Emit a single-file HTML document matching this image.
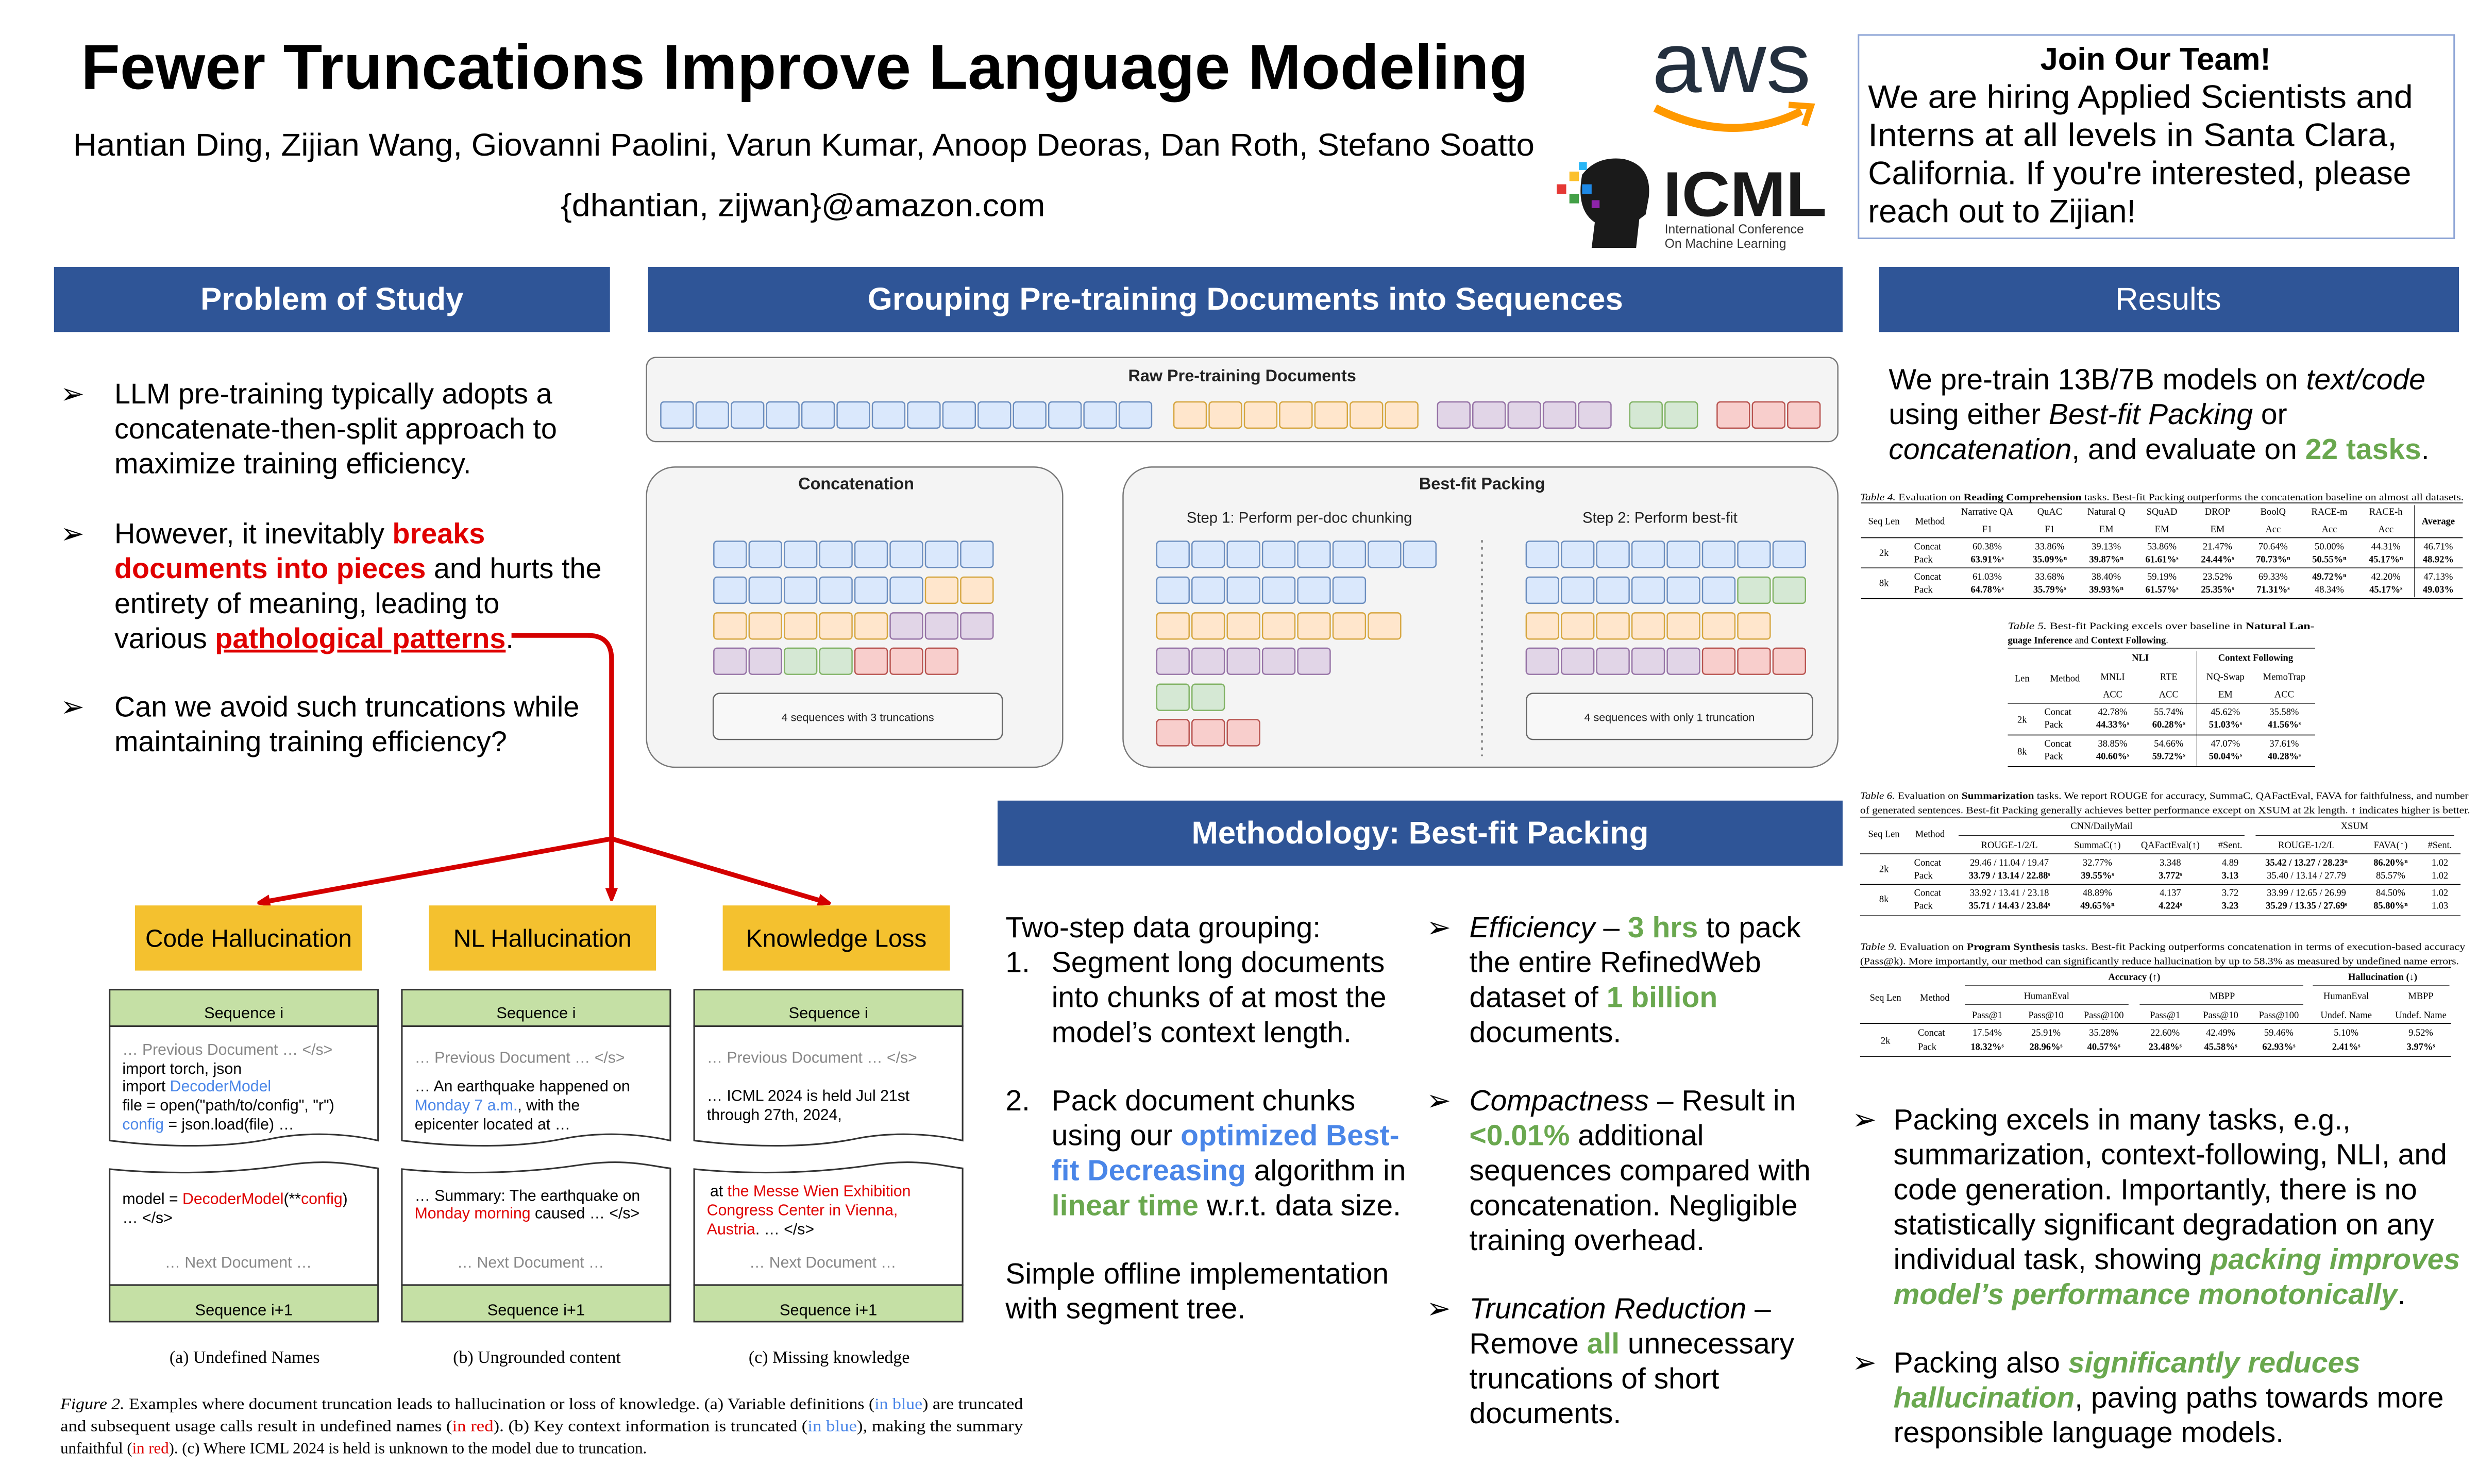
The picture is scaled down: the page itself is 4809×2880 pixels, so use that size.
<!DOCTYPE html>
<html><head><meta charset="utf-8"><style>html,body{margin:0;padding:0;background:#fff}svg{display:block}</style></head><body>
<svg width="4809" height="2880" viewBox="0 0 1560 934.2" xmlns="http://www.w3.org/2000/svg" font-family="Liberation Sans, DejaVu Sans, sans-serif">
<defs>
<marker id="ah" markerWidth="8" markerHeight="8" refX="5" refY="4" orient="auto" markerUnits="userSpaceOnUse"><path d="M0,0 L10,4 L0,8 z" fill="#d40000"/></marker>
</defs>
<rect width="1560" height="934.2" fill="#fff"/>
<text x="51" y="56" font-size="40" font-weight="bold" textLength="911" lengthAdjust="spacingAndGlyphs">Fewer Truncations Improve Language Modeling</text>
<text x="46" y="98" font-size="20" textLength="920" lengthAdjust="spacingAndGlyphs">Hantian Ding, Zijian Wang, Giovanni Paolini, Varun Kumar, Anoop Deoras, Dan Roth, Stefano Soatto</text>
<text x="353" y="136" font-size="20" textLength="305" lengthAdjust="spacingAndGlyphs">{dhantian, zijwan}@amazon.com</text>
<text x="1040" y="58" font-size="54" fill="#232f3e" textLength="100" lengthAdjust="spacingAndGlyphs">aws</text>
<path d="M1042,68 Q1090,92 1134,70" stroke="#ff9900" stroke-width="5" fill="none"/>
<path d="M1126,66 L1140,67 L1136,79" stroke="#ff9900" stroke-width="4" fill="none"/>
<path d="M996,110 Q1005,98 1022,100 Q1040,104 1038,124 L1036,135 L1032,138 L1030,156 L1002,156 L1004,140 Q992,132 996,110 Z" fill="#1a1a1a"/>
<rect x="980" y="116" width="6" height="6" fill="#e53935"/><rect x="988" y="108" width="6" height="6" fill="#fbc02d"/><rect x="988" y="122" width="6" height="6" fill="#43a047"/><rect x="996" y="116" width="6" height="6" fill="#1e88e5"/><rect x="1002" y="126" width="5" height="5" fill="#8e24aa"/><rect x="994" y="102" width="5" height="5" fill="#29b6f6"/>
<text x="1047" y="136" font-size="40" font-weight="bold" fill="#1a1a1a" textLength="103" lengthAdjust="spacingAndGlyphs">ICML</text>
<text x="1048" y="147" font-size="8" fill="#333">International Conference</text>
<text x="1048" y="156" font-size="8" fill="#333">On Machine Learning</text>
<rect x="1170" y="22" width="375" height="128" fill="#fff" stroke="#8fa6d6" stroke-width="1"/>
<text x="1357" y="44" font-size="20" font-weight="bold" text-anchor="middle">Join Our Team!</text>
<g font-size="20.5">
<text x="1176" y="68" textLength="343" lengthAdjust="spacingAndGlyphs">We are hiring Applied Scientists and</text>
<text x="1176" y="92" textLength="333" lengthAdjust="spacingAndGlyphs">Interns at all levels in Santa Clara,</text>
<text x="1176" y="116" textLength="342" lengthAdjust="spacingAndGlyphs">California. If you're interested, please</text>
<text x="1176" y="140">reach out to Zijian!</text>
</g>
<rect x="34" y="168" width="350" height="41" fill="#2f5597"/>
<text x="209" y="195" font-size="20" font-weight="bold" fill="#fff" text-anchor="middle">Problem of Study</text>
<rect x="408" y="168" width="752" height="41" fill="#2f5597"/>
<text x="784" y="195" font-size="20" font-weight="bold" fill="#fff" text-anchor="middle">Grouping Pre-training Documents into Sequences</text>
<rect x="1183" y="168" width="365" height="41" fill="#2f5597"/>
<text x="1365" y="195" font-size="20" fill="#fff" text-anchor="middle">Results</text>
<rect x="628" y="504" width="532" height="41" fill="#2f5597"/>
<text x="894" y="531" font-size="20" font-weight="bold" fill="#fff" text-anchor="middle">Methodology: Best-fit Packing</text>
<g font-size="18.1">
<text x="38" y="254">➢</text>
<text x="72" y="254">LLM pre-training typically adopts a</text>
<text x="72" y="276">concatenate-then-split approach to</text>
<text x="72" y="298">maximize training efficiency.</text>
<text x="38" y="342">➢</text>
<text x="72" y="342">However, it inevitably <tspan fill="#e00000" font-weight="bold">breaks</tspan></text>
<text x="72" y="364"><tspan fill="#e00000" font-weight="bold">documents into pieces</tspan> and hurts the</text>
<text x="72" y="386">entirety of meaning, leading to</text>
<text x="72" y="408">various <tspan fill="#e00000" font-weight="bold" text-decoration="underline">pathological patterns</tspan>.</text>
<text x="38" y="451">➢</text>
<text x="72" y="451">Can we avoid such truncations while</text>
<text x="72" y="473">maintaining training efficiency?</text>
</g>
<g stroke="#d40000" stroke-width="3" fill="none">
<path d="M322,400 H370 Q385,400 385,415 V528"/>
<path d="M385,528 L165,568" marker-end="url(#ah)"/>
<path d="M385,528 V564" marker-end="url(#ah)"/>
<path d="M385,528 L520,568" marker-end="url(#ah)"/>
</g>
<g font-size="15.5" text-anchor="middle">
<rect x="85" y="570" width="143" height="41" fill="#f4c12f"/><text x="156.5" y="596">Code Hallucination</text>
<rect x="270" y="570" width="143" height="41" fill="#f4c12f"/><text x="341.5" y="596">NL Hallucination</text>
<rect x="455" y="570" width="143" height="41" fill="#f4c12f"/><text x="526.5" y="596">Knowledge Loss</text>
</g>
<g stroke="#333" stroke-width="1">
<rect x="69" y="623" width="169" height="23" fill="#c5e0a5"/>
<path d="M69,646 V718 C110,723 145,722 170,717 S220,714 238,718 V646 Z" fill="#fff"/>
<path d="M69,736 C110,740 150,738 180,733.5 S225,734 238,735.5 V809 H69 Z" fill="#fff"/>
<rect x="69" y="809" width="169" height="23" fill="#c5e0a5"/>
<rect x="253" y="623" width="169" height="23" fill="#c5e0a5"/>
<path d="M253,646 V718 C294,723 329,722 354,717 S404,714 422,718 V646 Z" fill="#fff"/>
<path d="M253,736 C294,740 334,738 364,733.5 S409,734 422,735.5 V809 H253 Z" fill="#fff"/>
<rect x="253" y="809" width="169" height="23" fill="#c5e0a5"/>
<rect x="437" y="623" width="169" height="23" fill="#c5e0a5"/>
<path d="M437,646 V718 C478,723 513,722 538,717 S588,714 606,718 V646 Z" fill="#fff"/>
<path d="M437,736 C478,740 518,738 548,733.5 S593,734 606,735.5 V809 H437 Z" fill="#fff"/>
<rect x="437" y="809" width="169" height="23" fill="#c5e0a5"/>
</g>
<g font-size="10" text-anchor="middle">
<text x="153.5" y="641">Sequence i</text><text x="337.5" y="641">Sequence i</text><text x="521.5" y="641">Sequence i</text>
<text x="153.5" y="828">Sequence i+1</text><text x="337.5" y="828">Sequence i+1</text><text x="521.5" y="828">Sequence i+1</text>
</g>
<g font-size="9.8">
<text x="77" y="664" fill="#888">… Previous Document … &lt;/s&gt;</text>
<text x="77" y="676">import torch, json</text>
<text x="77" y="687">import <tspan fill="#4a86e8">DecoderModel</tspan></text>
<text x="77" y="699">file = open("path/to/config", "r")</text>
<text x="77" y="711"><tspan fill="#4a86e8">config</tspan> = json.load(file) …</text>
<text x="77" y="758">model = <tspan fill="#e00000">DecoderModel</tspan>(**<tspan fill="#e00000">config</tspan>)</text>
<text x="77" y="770">… &lt;/s&gt;</text>
<text x="150" y="798" fill="#888" text-anchor="middle">… Next Document …</text>
<text x="261" y="669" fill="#888">… Previous Document … &lt;/s&gt;</text>
<text x="261" y="687">… An earthquake happened on</text>
<text x="261" y="699"><tspan fill="#4a86e8">Monday 7 a.m.</tspan>, with the</text>
<text x="261" y="711">epicenter located at …</text>
<text x="261" y="756">… Summary: The earthquake on</text>
<text x="261" y="767"><tspan fill="#e00000">Monday morning</tspan> caused … &lt;/s&gt;</text>
<text x="334" y="798" fill="#888" text-anchor="middle">… Next Document …</text>
<text x="445" y="669" fill="#888">… Previous Document … &lt;/s&gt;</text>
<text x="445" y="693">… ICML 2024 is held Jul 21st</text>
<text x="445" y="705">through 27th, 2024,</text>
<text x="447" y="753">at <tspan fill="#e00000">the Messe Wien Exhibition</tspan></text>
<text x="445" y="765" fill="#e00000">Congress Center in Vienna,</text>
<text x="445" y="777"><tspan fill="#e00000">Austria</tspan>. … &lt;/s&gt;</text>
<text x="518" y="798" fill="#888" text-anchor="middle">… Next Document …</text>
</g>
<g font-family="Liberation Serif, serif" font-size="11" text-anchor="middle">
<text x="154" y="858">(a) Undefined Names</text>
<text x="338" y="858">(b) Ungrounded content</text>
<text x="522" y="858">(c) Missing knowledge</text>
</g>
<g font-family="Liberation Serif, serif" font-size="10">
<text x="38" y="887" textLength="606" lengthAdjust="spacingAndGlyphs"><tspan font-style="italic">Figure 2.</tspan> Examples where document truncation leads to hallucination or loss of knowledge. (a) Variable definitions (<tspan fill="#4a86e8">in blue</tspan>) are truncated</text>
<text x="38" y="901" textLength="606" lengthAdjust="spacingAndGlyphs">and subsequent usage calls result in undefined names (<tspan fill="#e00000">in red</tspan>). (b) Key context information is truncated (<tspan fill="#4a86e8">in blue</tspan>), making the summary</text>
<text x="38" y="915">unfaithful (<tspan fill="#e00000">in red</tspan>). (c) Where ICML 2024 is held is unknown to the model due to truncation.</text>
</g>
<g stroke="#777" stroke-width="0.8" fill="#f4f4f4">
<rect x="407" y="225" width="750" height="53" rx="6"/>
<rect x="407" y="294" width="262" height="189" rx="18"/>
<rect x="707" y="294" width="450" height="189" rx="18"/>
</g>
<g font-size="10.5" font-weight="bold" text-anchor="middle" fill="#222">
<text x="782" y="240">Raw Pre-training Documents</text>
<text x="539" y="308">Concatenation</text>
<text x="933" y="308">Best-fit Packing</text>
</g>
<g font-size="9.5" text-anchor="middle" fill="#222">
<text x="818" y="329">Step 1: Perform per-doc chunking</text>
<text x="1045" y="329">Step 2: Perform best-fit</text>
</g>
<line x1="933" y1="340" x2="933" y2="476" stroke="#555" stroke-width="0.8" stroke-dasharray="1.5,3"/>
<g stroke-width="0.8">
<rect x="449" y="436.5" width="182" height="29" rx="4" fill="#f8f8f8" stroke="#666"/>
<rect x="961" y="436.5" width="180" height="29" rx="4" fill="#f8f8f8" stroke="#666"/>
</g>
<g font-size="7" text-anchor="middle" fill="#222">
<text x="540" y="454">4 sequences with 3 truncations</text>
<text x="1051" y="454">4 sequences with only 1 truncation</text>
</g>
<g stroke-width="0.8">
<g fill="#dae8fc" stroke="#6c8ebf">
<rect x="416" y="253" width="20.4" height="16.5" rx="2"/><rect x="438.2" y="253" width="20.4" height="16.5" rx="2"/><rect x="460.4" y="253" width="20.4" height="16.5" rx="2"/><rect x="482.6" y="253" width="20.4" height="16.5" rx="2"/><rect x="504.8" y="253" width="20.4" height="16.5" rx="2"/><rect x="527" y="253" width="20.4" height="16.5" rx="2"/><rect x="549.2" y="253" width="20.4" height="16.5" rx="2"/><rect x="571.4" y="253" width="20.4" height="16.5" rx="2"/><rect x="593.6" y="253" width="20.4" height="16.5" rx="2"/><rect x="615.8" y="253" width="20.4" height="16.5" rx="2"/><rect x="638" y="253" width="20.4" height="16.5" rx="2"/><rect x="660.2" y="253" width="20.4" height="16.5" rx="2"/><rect x="682.4" y="253" width="20.4" height="16.5" rx="2"/><rect x="704.6" y="253" width="20.4" height="16.5" rx="2"/>
<rect x="449.4" y="340.7" width="20.4" height="16.5" rx="2"/><rect x="471.6" y="340.7" width="20.4" height="16.5" rx="2"/><rect x="493.8" y="340.7" width="20.4" height="16.5" rx="2"/><rect x="516" y="340.7" width="20.4" height="16.5" rx="2"/><rect x="538.2" y="340.7" width="20.4" height="16.5" rx="2"/><rect x="560.4" y="340.7" width="20.4" height="16.5" rx="2"/><rect x="582.6" y="340.7" width="20.4" height="16.5" rx="2"/><rect x="604.8" y="340.7" width="20.4" height="16.5" rx="2"/>
<rect x="449.4" y="363.3" width="20.4" height="16.5" rx="2"/><rect x="471.6" y="363.3" width="20.4" height="16.5" rx="2"/><rect x="493.8" y="363.3" width="20.4" height="16.5" rx="2"/><rect x="516" y="363.3" width="20.4" height="16.5" rx="2"/><rect x="538.2" y="363.3" width="20.4" height="16.5" rx="2"/><rect x="560.4" y="363.3" width="20.4" height="16.5" rx="2"/>
<rect x="728.2" y="340.7" width="20.4" height="16.5" rx="2"/><rect x="750.4" y="340.7" width="20.4" height="16.5" rx="2"/><rect x="772.6" y="340.7" width="20.4" height="16.5" rx="2"/><rect x="794.8" y="340.7" width="20.4" height="16.5" rx="2"/><rect x="817" y="340.7" width="20.4" height="16.5" rx="2"/><rect x="839.2" y="340.7" width="20.4" height="16.5" rx="2"/><rect x="861.4" y="340.7" width="20.4" height="16.5" rx="2"/><rect x="883.6" y="340.7" width="20.4" height="16.5" rx="2"/>
<rect x="728.2" y="363.3" width="20.4" height="16.5" rx="2"/><rect x="750.4" y="363.3" width="20.4" height="16.5" rx="2"/><rect x="772.6" y="363.3" width="20.4" height="16.5" rx="2"/><rect x="794.8" y="363.3" width="20.4" height="16.5" rx="2"/><rect x="817" y="363.3" width="20.4" height="16.5" rx="2"/><rect x="839.2" y="363.3" width="20.4" height="16.5" rx="2"/>
<rect x="960.8" y="340.7" width="20.4" height="16.5" rx="2"/><rect x="983" y="340.7" width="20.4" height="16.5" rx="2"/><rect x="1005.2" y="340.7" width="20.4" height="16.5" rx="2"/><rect x="1027.4" y="340.7" width="20.4" height="16.5" rx="2"/><rect x="1049.6" y="340.7" width="20.4" height="16.5" rx="2"/><rect x="1071.8" y="340.7" width="20.4" height="16.5" rx="2"/><rect x="1094" y="340.7" width="20.4" height="16.5" rx="2"/><rect x="1116.2" y="340.7" width="20.4" height="16.5" rx="2"/>
<rect x="960.8" y="363.3" width="20.4" height="16.5" rx="2"/><rect x="983" y="363.3" width="20.4" height="16.5" rx="2"/><rect x="1005.2" y="363.3" width="20.4" height="16.5" rx="2"/><rect x="1027.4" y="363.3" width="20.4" height="16.5" rx="2"/><rect x="1049.6" y="363.3" width="20.4" height="16.5" rx="2"/><rect x="1071.8" y="363.3" width="20.4" height="16.5" rx="2"/>
</g>
<g fill="#ffe6cc" stroke="#d6a640">
<rect x="739" y="253" width="20.4" height="16.5" rx="2"/><rect x="761.2" y="253" width="20.4" height="16.5" rx="2"/><rect x="783.4" y="253" width="20.4" height="16.5" rx="2"/><rect x="805.6" y="253" width="20.4" height="16.5" rx="2"/><rect x="827.8" y="253" width="20.4" height="16.5" rx="2"/><rect x="850" y="253" width="20.4" height="16.5" rx="2"/><rect x="872.2" y="253" width="20.4" height="16.5" rx="2"/>
<rect x="582.6" y="363.3" width="20.4" height="16.5" rx="2"/><rect x="604.8" y="363.3" width="20.4" height="16.5" rx="2"/>
<rect x="449.4" y="385.8" width="20.4" height="16.5" rx="2"/><rect x="471.6" y="385.8" width="20.4" height="16.5" rx="2"/><rect x="493.8" y="385.8" width="20.4" height="16.5" rx="2"/><rect x="516" y="385.8" width="20.4" height="16.5" rx="2"/><rect x="538.2" y="385.8" width="20.4" height="16.5" rx="2"/>
<rect x="728.2" y="385.8" width="20.4" height="16.5" rx="2"/><rect x="750.4" y="385.8" width="20.4" height="16.5" rx="2"/><rect x="772.6" y="385.8" width="20.4" height="16.5" rx="2"/><rect x="794.8" y="385.8" width="20.4" height="16.5" rx="2"/><rect x="817" y="385.8" width="20.4" height="16.5" rx="2"/><rect x="839.2" y="385.8" width="20.4" height="16.5" rx="2"/><rect x="861.4" y="385.8" width="20.4" height="16.5" rx="2"/>
<rect x="960.8" y="385.8" width="20.4" height="16.5" rx="2"/><rect x="983" y="385.8" width="20.4" height="16.5" rx="2"/><rect x="1005.2" y="385.8" width="20.4" height="16.5" rx="2"/><rect x="1027.4" y="385.8" width="20.4" height="16.5" rx="2"/><rect x="1049.6" y="385.8" width="20.4" height="16.5" rx="2"/><rect x="1071.8" y="385.8" width="20.4" height="16.5" rx="2"/><rect x="1094" y="385.8" width="20.4" height="16.5" rx="2"/>
</g>
<g fill="#e1d5e7" stroke="#9673a6">
<rect x="905" y="253" width="20.4" height="16.5" rx="2"/><rect x="927.2" y="253" width="20.4" height="16.5" rx="2"/><rect x="949.4" y="253" width="20.4" height="16.5" rx="2"/><rect x="971.6" y="253" width="20.4" height="16.5" rx="2"/><rect x="993.8" y="253" width="20.4" height="16.5" rx="2"/>
<rect x="560.4" y="385.8" width="20.4" height="16.5" rx="2"/><rect x="582.6" y="385.8" width="20.4" height="16.5" rx="2"/><rect x="604.8" y="385.8" width="20.4" height="16.5" rx="2"/>
<rect x="449.4" y="408" width="20.4" height="16.5" rx="2"/><rect x="471.6" y="408" width="20.4" height="16.5" rx="2"/>
<rect x="728.2" y="408" width="20.4" height="16.5" rx="2"/><rect x="750.4" y="408" width="20.4" height="16.5" rx="2"/><rect x="772.6" y="408" width="20.4" height="16.5" rx="2"/><rect x="794.8" y="408" width="20.4" height="16.5" rx="2"/><rect x="817" y="408" width="20.4" height="16.5" rx="2"/>
<rect x="960.8" y="408" width="20.4" height="16.5" rx="2"/><rect x="983" y="408" width="20.4" height="16.5" rx="2"/><rect x="1005.2" y="408" width="20.4" height="16.5" rx="2"/><rect x="1027.4" y="408" width="20.4" height="16.5" rx="2"/><rect x="1049.6" y="408" width="20.4" height="16.5" rx="2"/>
</g>
<g fill="#d5e8d4" stroke="#82b366">
<rect x="1026" y="253" width="20.4" height="16.5" rx="2"/><rect x="1048.2" y="253" width="20.4" height="16.5" rx="2"/>
<rect x="493.8" y="408" width="20.4" height="16.5" rx="2"/><rect x="516" y="408" width="20.4" height="16.5" rx="2"/>
<rect x="728.2" y="430.7" width="20.4" height="16.5" rx="2"/><rect x="750.4" y="430.7" width="20.4" height="16.5" rx="2"/>
<rect x="1094" y="363.3" width="20.4" height="16.5" rx="2"/><rect x="1116.2" y="363.3" width="20.4" height="16.5" rx="2"/>
</g>
<g fill="#f8cecc" stroke="#b85450">
<rect x="1081" y="253" width="20.4" height="16.5" rx="2"/><rect x="1103.2" y="253" width="20.4" height="16.5" rx="2"/><rect x="1125.4" y="253" width="20.4" height="16.5" rx="2"/>
<rect x="538.2" y="408" width="20.4" height="16.5" rx="2"/><rect x="560.4" y="408" width="20.4" height="16.5" rx="2"/><rect x="582.6" y="408" width="20.4" height="16.5" rx="2"/>
<rect x="728.2" y="453" width="20.4" height="16.5" rx="2"/><rect x="750.4" y="453" width="20.4" height="16.5" rx="2"/><rect x="772.6" y="453" width="20.4" height="16.5" rx="2"/>
<rect x="1071.8" y="408" width="20.4" height="16.5" rx="2"/><rect x="1094" y="408" width="20.4" height="16.5" rx="2"/><rect x="1116.2" y="408" width="20.4" height="16.5" rx="2"/>
</g>
</g>
<g font-size="18.5">
<text x="633" y="590">Two-step data grouping:</text>
<text x="633" y="612">1.</text><text x="662" y="612">Segment long documents</text>
<text x="662" y="634">into chunks of at most the</text>
<text x="662" y="656">model’s context length.</text>
<text x="633" y="699">2.</text><text x="662" y="699">Pack document chunks</text>
<text x="662" y="721">using our <tspan fill="#4a86e8" font-weight="bold">optimized Best-</tspan></text>
<text x="662" y="743"><tspan fill="#4a86e8" font-weight="bold">fit Decreasing</tspan> algorithm in</text>
<text x="662" y="765"><tspan fill="#6aa84f" font-weight="bold">linear time</tspan> w.r.t. data size.</text>
<text x="633" y="808">Simple offline implementation</text>
<text x="633" y="830">with segment tree.</text>
<text x="898" y="590">➢</text>
<text x="925" y="590"><tspan font-style="italic">Efficiency</tspan> – <tspan fill="#6aa84f" font-weight="bold">3 hrs</tspan> to pack</text>
<text x="925" y="612">the entire RefinedWeb</text>
<text x="925" y="634">dataset of <tspan fill="#6aa84f" font-weight="bold">1 billion</tspan></text>
<text x="925" y="656">documents.</text>
<text x="898" y="699">➢</text>
<text x="925" y="699"><tspan font-style="italic">Compactness</tspan> – Result in</text>
<text x="925" y="721"><tspan fill="#6aa84f" font-weight="bold">&lt;0.01%</tspan> additional</text>
<text x="925" y="743">sequences compared with</text>
<text x="925" y="765">concatenation. Negligible</text>
<text x="925" y="787">training overhead.</text>
<text x="898" y="830">➢</text>
<text x="925" y="830"><tspan font-style="italic">Truncation Reduction</tspan> –</text>
<text x="925" y="852">Remove <tspan fill="#6aa84f" font-weight="bold">all</tspan> unnecessary</text>
<text x="925" y="874">truncations of short</text>
<text x="925" y="896">documents.</text>
</g>
<g font-size="18.5">
<text x="1189" y="245">We pre-train 13B/7B models on <tspan font-style="italic">text/code</tspan></text>
<text x="1189" y="267">using either <tspan font-style="italic">Best-fit Packing</tspan> or</text>
<text x="1189" y="289"><tspan font-style="italic">concatenation</tspan>, and evaluate on <tspan fill="#6aa84f" font-weight="bold">22 tasks</tspan>.</text>
<text x="1166" y="711">➢</text>
<text x="1192" y="711">Packing excels in many tasks, e.g.,</text>
<text x="1192" y="733">summarization, context-following, NLI, and</text>
<text x="1192" y="755">code generation. Importantly, there is no</text>
<text x="1192" y="777">statistically significant degradation on any</text>
<text x="1192" y="799">individual task, showing <tspan fill="#6aa84f" font-weight="bold" font-style="italic">packing improves</tspan></text>
<text x="1192" y="821"><tspan fill="#6aa84f" font-weight="bold" font-style="italic">model’s performance monotonically</tspan>.</text>
<text x="1166" y="864">➢</text>
<text x="1192" y="864">Packing also <tspan fill="#6aa84f" font-weight="bold" font-style="italic">significantly reduces</tspan></text>
<text x="1192" y="886"><tspan fill="#6aa84f" font-weight="bold" font-style="italic">hallucination</tspan>, paving paths towards more</text>
<text x="1192" y="908">responsible language models.</text>
</g>
<g font-family="Liberation Serif, serif" font-size="6" text-anchor="middle">
<text x="1171" y="315" text-anchor="start" textLength="380" lengthAdjust="spacingAndGlyphs"><tspan font-style="italic">Table 4.</tspan> Evaluation on <tspan font-weight="bold">Reading Comprehension</tspan> tasks. Best-fit Packing outperforms the concatenation baseline on almost all datasets.</text>
<g stroke="#000" stroke-width="0.5"><line x1="1171.6" y1="316.6" x2="1550.4" y2="316.6"/><line x1="1171.6" y1="338.5" x2="1550.4" y2="338.5"/><line x1="1171.6" y1="357.5" x2="1550.4" y2="357.5"/><line x1="1171.6" y1="376.8" x2="1550.4" y2="376.8"/><line x1="1520" y1="318" x2="1520" y2="376" stroke-width="0.3"/></g>
<text x="1186" y="330">Seq Len</text><text x="1215" y="330">Method</text>
<text x="1251" y="324">Narrative QA</text><text x="1290.4" y="324">QuAC</text><text x="1326" y="324">Natural Q</text><text x="1361" y="324">SQuAD</text><text x="1396" y="324">DROP</text><text x="1431" y="324">BoolQ</text><text x="1466.4" y="324">RACE-m</text><text x="1502" y="324">RACE-h</text><text x="1535" y="330" font-weight="bold">Average</text>
<text x="1251" y="335">F1</text><text x="1290.4" y="335">F1</text><text x="1326" y="335">EM</text><text x="1361" y="335">EM</text><text x="1396" y="335">EM</text><text x="1431" y="335">Acc</text><text x="1466.4" y="335">Acc</text><text x="1502" y="335">Acc</text>
<text x="1186" y="350">2k</text><text x="1205" y="346" text-anchor="start">Concat</text><text x="1205" y="354" text-anchor="start">Pack</text>
<text x="1251" y="346">60.38%</text><text x="1290.4" y="346">33.86%</text><text x="1326" y="346">39.13%</text><text x="1361" y="346">53.86%</text><text x="1396" y="346">21.47%</text><text x="1431" y="346">70.64%</text><text x="1466.4" y="346">50.00%</text><text x="1502" y="346">44.31%</text><text x="1535" y="346">46.71%</text>
<g font-weight="bold"><text x="1251" y="354">63.91%ˢ</text><text x="1290.4" y="354">35.09%ⁿ</text><text x="1326" y="354">39.87%ⁿ</text><text x="1361" y="354">61.61%ˢ</text><text x="1396" y="354">24.44%ˢ</text><text x="1431" y="354">70.73%ⁿ</text><text x="1466.4" y="354">50.55%ⁿ</text><text x="1502" y="354">45.17%ⁿ</text><text x="1535" y="354">48.92%</text></g>
<text x="1186" y="369">8k</text><text x="1205" y="365" text-anchor="start">Concat</text><text x="1205" y="373" text-anchor="start">Pack</text>
<text x="1251" y="365">61.03%</text><text x="1290.4" y="365">33.68%</text><text x="1326" y="365">38.40%</text><text x="1361" y="365">59.19%</text><text x="1396" y="365">23.52%</text><text x="1431" y="365">69.33%</text><text x="1466.4" y="365" font-weight="bold">49.72%ⁿ</text><text x="1502" y="365">42.20%</text><text x="1535" y="365">47.13%</text>
<text x="1466.4" y="373">48.34%</text>
<g font-weight="bold"><text x="1251" y="373">64.78%ˢ</text><text x="1290.4" y="373">35.79%ˢ</text><text x="1326" y="373">39.93%ⁿ</text><text x="1361" y="373">61.57%ˢ</text><text x="1396" y="373">25.35%ˢ</text><text x="1431" y="373">71.31%ˢ</text><text x="1502" y="373">45.17%ˢ</text><text x="1535" y="373">49.03%</text></g>
<text x="1264" y="396" text-anchor="start" textLength="193" lengthAdjust="spacingAndGlyphs"><tspan font-style="italic">Table 5.</tspan> Best-fit Packing excels over baseline in <tspan font-weight="bold">Natural Lan-</tspan></text>
<text x="1264" y="405" text-anchor="start"><tspan font-weight="bold">guage Inference</tspan> and <tspan font-weight="bold">Context Following</tspan>.</text>
<g stroke="#000" stroke-width="0.5"><line x1="1264" y1="408" x2="1457.5" y2="408"/><line x1="1264" y1="442.7" x2="1457.5" y2="442.7"/><line x1="1264" y1="462.7" x2="1457.5" y2="462.7"/><line x1="1264" y1="482.6" x2="1457.5" y2="482.6"/><line x1="1383" y1="410" x2="1383" y2="482" stroke-width="0.3"/></g>
<text x="1347.4" y="416" font-weight="bold">NLI</text><text x="1420" y="416" font-weight="bold">Context Following</text>
<text x="1273" y="429">Len</text><text x="1300" y="429">Method</text>
<text x="1330" y="428">MNLI</text><text x="1365.3" y="428">RTE</text><text x="1401" y="428">NQ-Swap</text><text x="1438" y="428">MemoTrap</text>
<text x="1330" y="439">ACC</text><text x="1365.3" y="439">ACC</text><text x="1401" y="439">EM</text><text x="1438" y="439">ACC</text>
<text x="1273" y="455">2k</text><text x="1287" y="450" text-anchor="start">Concat</text><text x="1287" y="458" text-anchor="start">Pack</text>
<text x="1330" y="450">42.78%</text><text x="1365.3" y="450">55.74%</text><text x="1401" y="450">45.62%</text><text x="1438" y="450">35.58%</text>
<g font-weight="bold"><text x="1330" y="458">44.33%ˢ</text><text x="1365.3" y="458">60.28%ˢ</text><text x="1401" y="458">51.03%ˢ</text><text x="1438" y="458">41.56%ˢ</text></g>
<text x="1273" y="475">8k</text><text x="1287" y="470" text-anchor="start">Concat</text><text x="1287" y="478" text-anchor="start">Pack</text>
<text x="1330" y="470">38.85%</text><text x="1365.3" y="470">54.66%</text><text x="1401" y="470">47.07%</text><text x="1438" y="470">37.61%</text>
<g font-weight="bold"><text x="1330" y="478">40.60%ˢ</text><text x="1365.3" y="478">59.72%ˢ</text><text x="1401" y="478">50.04%ˢ</text><text x="1438" y="478">40.28%ˢ</text></g>
<text x="1171" y="503" text-anchor="start" textLength="383" lengthAdjust="spacingAndGlyphs"><tspan font-style="italic">Table 6.</tspan> Evaluation on <tspan font-weight="bold">Summarization</tspan> tasks. We report ROUGE for accuracy, SummaC, QAFactEval, FAVA for faithfulness, and number</text>
<text x="1171" y="512" text-anchor="start" textLength="384" lengthAdjust="spacingAndGlyphs">of generated sentences. Best-fit Packing generally achieves better performance except on XSUM at 2k length. ↑ indicates higher is better.</text>
<g stroke="#000" stroke-width="0.5"><line x1="1171" y1="514.4" x2="1549" y2="514.4"/><line x1="1171" y1="537.5" x2="1549" y2="537.5"/><line x1="1171" y1="556.7" x2="1549" y2="556.7"/><line x1="1171" y1="576.5" x2="1549" y2="576.5"/><line x1="1233" y1="526" x2="1413" y2="526" stroke-width="0.3"/><line x1="1420" y1="526" x2="1545" y2="526" stroke-width="0.3"/></g>
<text x="1323" y="522">CNN/DailyMail</text><text x="1482.3" y="522">XSUM</text>
<text x="1186" y="527">Seq Len</text><text x="1215" y="527">Method</text>
<text x="1265" y="534">ROUGE-1/2/L</text><text x="1320.4" y="534">SummaC(↑)</text><text x="1366.3" y="534">QAFactEval(↑)</text><text x="1404" y="534">#Sent.</text><text x="1452" y="534">ROUGE-1/2/L</text><text x="1505" y="534">FAVA(↑)</text><text x="1536" y="534">#Sent.</text>
<text x="1186" y="549">2k</text><text x="1205" y="545" text-anchor="start">Concat</text><text x="1205" y="553" text-anchor="start">Pack</text>
<text x="1265" y="545">29.46 / 11.04 / 19.47</text><text x="1320.4" y="545">32.77%</text><text x="1366.3" y="545">3.348</text><text x="1404" y="545">4.89</text><text x="1452" y="545" font-weight="bold">35.42 / 13.27 / 28.23ⁿ</text><text x="1505" y="545" font-weight="bold">86.20%ⁿ</text><text x="1536" y="545">1.02</text>
<g font-weight="bold"><text x="1265" y="553">33.79 / 13.14 / 22.88ˢ</text><text x="1320.4" y="553">39.55%ˢ</text><text x="1366.3" y="553">3.772ˢ</text><text x="1404" y="553">3.13</text></g><text x="1452" y="553">35.40 / 13.14 / 27.79</text><text x="1505" y="553">85.57%</text><text x="1536" y="553">1.02</text>
<text x="1186" y="568">8k</text><text x="1205" y="564" text-anchor="start">Concat</text><text x="1205" y="572" text-anchor="start">Pack</text>
<text x="1265" y="564">33.92 / 13.41 / 23.18</text><text x="1320.4" y="564">48.89%</text><text x="1366.3" y="564">4.137</text><text x="1404" y="564">3.72</text><text x="1452" y="564">33.99 / 12.65 / 26.99</text><text x="1505" y="564">84.50%</text><text x="1536" y="564">1.02</text>
<g font-weight="bold"><text x="1265" y="572">35.71 / 14.43 / 23.84ˢ</text><text x="1320.4" y="572">49.65%ⁿ</text><text x="1366.3" y="572">4.224ˢ</text><text x="1404" y="572">3.23</text><text x="1452" y="572">35.29 / 13.35 / 27.69ˢ</text><text x="1505" y="572">85.80%ⁿ</text></g><text x="1536" y="572">1.03</text>
<text x="1171" y="598" text-anchor="start" textLength="381" lengthAdjust="spacingAndGlyphs"><tspan font-style="italic">Table 9.</tspan> Evaluation on <tspan font-weight="bold">Program Synthesis</tspan> tasks. Best-fit Packing outperforms concatenation in terms of execution-based accuracy</text>
<text x="1171" y="607" text-anchor="start" textLength="377" lengthAdjust="spacingAndGlyphs">(Pass@k). More importantly, our method can significantly reduce hallucination by up to 58.3% as measured by undefined name errors.</text>
<g stroke="#000" stroke-width="0.5"><line x1="1171" y1="609" x2="1543" y2="609"/><line x1="1171" y1="644.3" x2="1543" y2="644.3"/><line x1="1171" y1="665" x2="1543" y2="665"/><line x1="1237" y1="620.5" x2="1450" y2="620.5" stroke-width="0.3"/><line x1="1456" y1="620.5" x2="1542" y2="620.5" stroke-width="0.3"/><line x1="1237" y1="632.3" x2="1340" y2="632.3" stroke-width="0.3"/><line x1="1347" y1="632.3" x2="1450" y2="632.3" stroke-width="0.3"/></g>
<text x="1343.6" y="617" font-weight="bold">Accuracy (↑)</text><text x="1500" y="617" font-weight="bold">Hallucination (↓)</text>
<text x="1187" y="630">Seq Len</text><text x="1218" y="630">Method</text>
<text x="1288.4" y="629">HumanEval</text><text x="1399" y="629">MBPP</text><text x="1477" y="629">HumanEval</text><text x="1524" y="629">MBPP</text>
<text x="1251" y="641">Pass@1</text><text x="1288" y="641">Pass@10</text><text x="1324.4" y="641">Pass@100</text><text x="1363" y="641">Pass@1</text><text x="1398" y="641">Pass@10</text><text x="1434.6" y="641">Pass@100</text><text x="1477" y="641">Undef. Name</text><text x="1524" y="641">Undef. Name</text>
<text x="1187" y="657">2k</text><text x="1207.4" y="652" text-anchor="start">Concat</text><text x="1207.4" y="661" text-anchor="start">Pack</text>
<text x="1251" y="652">17.54%</text><text x="1288" y="652">25.91%</text><text x="1324.4" y="652">35.28%</text><text x="1363" y="652">22.60%</text><text x="1398" y="652">42.49%</text><text x="1434.6" y="652">59.46%</text><text x="1477" y="652">5.10%</text><text x="1524" y="652">9.52%</text>
<g font-weight="bold"><text x="1251" y="661">18.32%ˢ</text><text x="1288" y="661">28.96%ˢ</text><text x="1324.4" y="661">40.57%ˢ</text><text x="1363" y="661">23.48%ˢ</text><text x="1398" y="661">45.58%ˢ</text><text x="1434.6" y="661">62.93%ˢ</text><text x="1477" y="661">2.41%ˢ</text><text x="1524" y="661">3.97%ˢ</text></g>
</g>
</svg>
</body></html>
